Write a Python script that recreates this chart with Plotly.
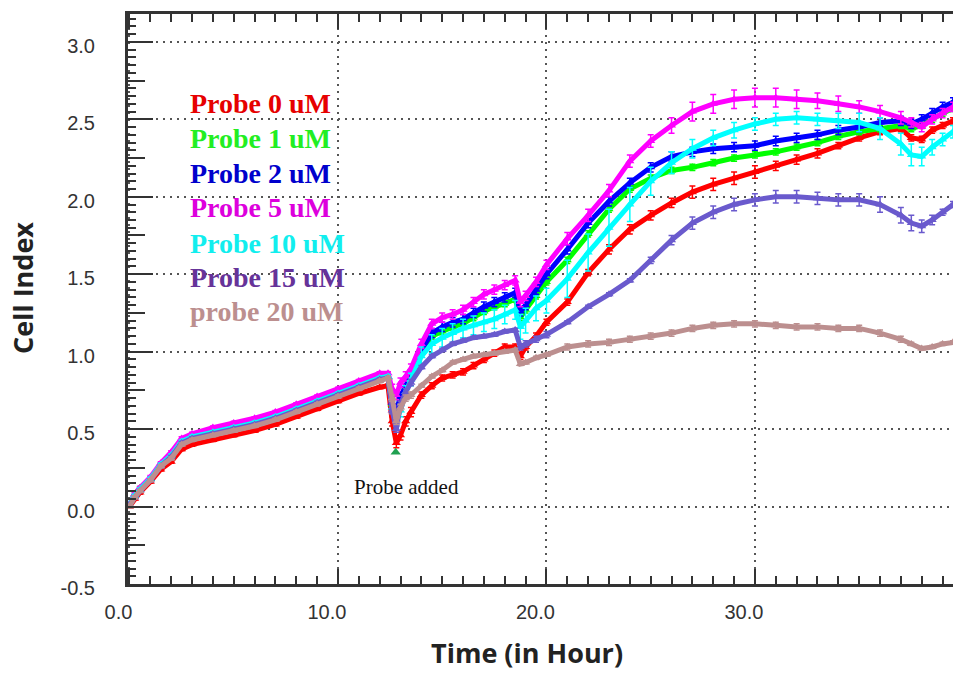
import plotly.graph_objects as go

# ---------------- data ----------------
time_h = [0, 0.25, 0.5, 1, 1.5, 2, 2.5, 3, 4, 5, 6, 7, 8, 9, 10, 11, 12, 12.4,
          12.6, 12.8, 13.0, 13.25, 13.5,
          14, 14.5, 15, 15.5, 16, 16.5, 17, 17.5, 18, 18.5,
          18.75, 19, 19.5, 20,
          21, 22, 23, 24, 25, 26, 27, 28, 29, 30, 31, 32, 33, 34, 35, 36, 37,
          37.5, 38, 38.5, 39, 39.5]

probe_0 = [0.00, 0.05, 0.09, 0.16, 0.24, 0.29, 0.37, 0.40, 0.43, 0.46, 0.49, 0.53, 0.58, 0.63, 0.68, 0.73, 0.77, 0.78,
           0.55, 0.41, 0.46, 0.55, 0.61,
           0.72, 0.78, 0.83, 0.85, 0.87, 0.91, 0.95, 0.99, 1.03, 1.03,
           0.97, 1.03, 1.10, 1.19,
           1.32, 1.51, 1.66, 1.79, 1.88, 1.96, 2.03, 2.08, 2.12, 2.16, 2.20, 2.24, 2.28, 2.33, 2.38, 2.42, 2.44,
           2.38, 2.37, 2.43, 2.46, 2.49]
probe_1 = [0.01, 0.08, 0.12, 0.18, 0.27, 0.33, 0.42, 0.45, 0.48, 0.51, 0.54, 0.58, 0.63, 0.68, 0.73, 0.78, 0.83, 0.84,
           0.66, 0.60, 0.70, 0.77, 0.84,
           1.00, 1.10, 1.13, 1.16, 1.18, 1.22, 1.26, 1.29, 1.31, 1.34,
           1.22, 1.27, 1.36, 1.45,
           1.59, 1.76, 1.92, 2.05, 2.12, 2.17, 2.19, 2.22, 2.25, 2.27, 2.29, 2.32, 2.35, 2.39, 2.42, 2.44, 2.46,
           2.44, 2.46, 2.50, 2.54, 2.57]
probe_2 = [0.01, 0.07, 0.11, 0.18, 0.27, 0.33, 0.42, 0.45, 0.48, 0.51, 0.54, 0.58, 0.63, 0.68, 0.73, 0.78, 0.83, 0.84,
           0.67, 0.62, 0.71, 0.78, 0.85,
           1.01, 1.12, 1.16, 1.19, 1.21, 1.25, 1.29, 1.32, 1.35, 1.38,
           1.26, 1.30, 1.40, 1.50,
           1.66, 1.83, 1.97, 2.09, 2.19, 2.26, 2.29, 2.31, 2.32, 2.33, 2.36, 2.38, 2.40, 2.43, 2.45, 2.48, 2.49,
           2.47, 2.50, 2.54, 2.58, 2.61]
probe_5 = [0.01, 0.08, 0.12, 0.19, 0.28, 0.35, 0.44, 0.47, 0.51, 0.54, 0.57, 0.61, 0.66, 0.71, 0.76, 0.81, 0.86, 0.86,
           0.76, 0.72, 0.80, 0.84, 0.89,
           1.05, 1.18, 1.22, 1.24, 1.27, 1.32, 1.37, 1.40, 1.43, 1.46,
           1.32, 1.36, 1.45, 1.56,
           1.73, 1.88, 2.04, 2.23, 2.36, 2.46, 2.55, 2.60, 2.63, 2.64, 2.64, 2.63, 2.62, 2.60, 2.58, 2.55, 2.51,
           2.48, 2.45, 2.50, 2.54, 2.58]
probe_10 = [0.01, 0.07, 0.11, 0.18, 0.27, 0.33, 0.42, 0.45, 0.48, 0.51, 0.54, 0.58, 0.63, 0.68, 0.73, 0.78, 0.83, 0.84,
            0.64, 0.56, 0.62, 0.74, 0.82,
            0.97, 1.05, 1.09, 1.12, 1.15, 1.17, 1.19, 1.21, 1.24, 1.27,
            1.16, 1.20, 1.28, 1.33,
            1.47, 1.64, 1.80, 1.95, 2.10, 2.22, 2.31, 2.38, 2.43, 2.47, 2.50, 2.51, 2.50, 2.49, 2.48, 2.44, 2.34,
            2.27, 2.26, 2.32, 2.37, 2.42]
probe_15 = [0.01, 0.06, 0.10, 0.17, 0.26, 0.32, 0.41, 0.44, 0.47, 0.50, 0.53, 0.57, 0.62, 0.67, 0.72, 0.77, 0.82, 0.83,
            0.62, 0.50, 0.66, 0.74, 0.80,
            0.90, 0.97, 1.01, 1.05, 1.07, 1.09, 1.10, 1.11, 1.13, 1.14,
            1.03, 1.05, 1.08, 1.11,
            1.19, 1.29, 1.37, 1.46, 1.59, 1.72, 1.83, 1.90, 1.95, 1.98, 2.00, 2.00, 1.99, 1.98, 1.98, 1.95, 1.88,
            1.83, 1.81, 1.85, 1.90, 1.95]
probe_20 = [0.00, 0.06, 0.10, 0.17, 0.26, 0.31, 0.40, 0.43, 0.46, 0.49, 0.52, 0.56, 0.61, 0.66, 0.71, 0.76, 0.81, 0.83,
            0.70, 0.55, 0.64, 0.70, 0.72,
            0.78, 0.84, 0.88, 0.93, 0.95, 0.97, 0.98, 0.99, 1.00, 1.01,
            0.92, 0.93, 0.96, 0.98,
            1.03, 1.05, 1.06, 1.08, 1.10, 1.12, 1.15, 1.17, 1.18, 1.18, 1.17, 1.16, 1.16, 1.15, 1.15, 1.12, 1.08,
            1.05, 1.02, 1.03, 1.05, 1.06]

# standard deviations (error bars)
err_0 = [0.01] * 18 + [0.03] * 5 + [0.02] * 10 + [0.02] * 4 + \
        [0.02, 0.02, 0.03, 0.03, 0.03, 0.03, 0.04, 0.04, 0.04, 0.04, 0.03, 0.03, 0.03, 0.02, 0.02, 0.02, 0.02] + [0.02] * 5
err_1 = [0.01] * 18 + [0.02] * 5 + [0.02] * 10 + [0.02] * 4 + [0.02] * 17 + [0.02] * 5
err_2 = [0.01] * 18 + [0.03] * 5 + [0.03] * 10 + [0.03] * 4 + [0.03] * 17 + [0.03] * 5
err_5 = [0.01] * 18 + [0.03] * 5 + [0.03] * 10 + [0.03] * 4 + \
        [0.04, 0.04, 0.04, 0.04, 0.04, 0.05, 0.06, 0.06, 0.06, 0.06, 0.06, 0.06, 0.05, 0.05, 0.04, 0.04, 0.04] + [0.03] * 5
err_10 = [0.01] * 18 + [0.04] * 5 + [0.06] * 10 + [0.08] * 4 + \
         [0.12, 0.12, 0.12, 0.11, 0.09, 0.07, 0.06, 0.05, 0.05, 0.04, 0.04, 0.04, 0.04, 0.05, 0.06, 0.07, 0.07] + \
         [0.07, 0.06, 0.05, 0.04, 0.04]
err_15 = [0.01] * 18 + [0.02] * 5 + [0.01] * 10 + [0.02] * 4 + \
         [0.01, 0.01, 0.01, 0.01, 0.02, 0.03, 0.04, 0.04, 0.04, 0.04, 0.04, 0.04, 0.04, 0.04, 0.04, 0.05, 0.05] + \
         [0.05, 0.04, 0.03, 0.02, 0.02]
err_20 = [0.01] * 18 + [0.02] * 5 + [0.01] * 10 + [0.01] * 4 + [0.02] * 17 + [0.01] * 5

series_names = ["Probe 0 uM", "Probe 1 uM", "Probe 2 uM", "Probe 5 uM",
                "Probe 10 uM", "Probe 15 uM", "probe 20 uM"]
series_vals = [probe_0, probe_1, probe_2, probe_5, probe_10, probe_15, probe_20]
series_err = [err_0, err_1, err_2, err_5, err_10, err_15, err_20]

probe_added_time = [12.77]
probe_added_ci = [0.35]

y_tick_vals = [-0.5, 0.0, 0.5, 1.0, 1.5, 2.0, 2.5, 3.0]
y_tick_text = ["-0.5", "0.0", "0.5", "1.0", "1.5", "2.0", "2.5", "3.0"]
x_tick_vals = [0, 10, 20, 30]
x_tick_text = ["0.0", "10.0", "20.0", "30.0"]

# ---------------- style ----------------
line_colors = ["#FF0000", "#00FF00", "#0000FF", "#FF00FF", "#00FFFF", "#6A5ACD", "#BC8F8F"]
text_colors = ["#E60000", "#22EE22", "#0000CC", "#DD00DD", "#11EEEE", "#663399", "#BC8F8F"]

W, H = 953, 673
L, R, T, B = 128, 0, 14, 89
PW, PH = W - L - R, H - T - B
XR = [-0.07, 39.5]
YR = [-0.5, 3.18]
AX = "#333333"


def px(xp):
    return (xp - L) / PW


def py(yp):
    return (H - B - yp) / PH


fig = go.Figure()

for name, vals, err, col in zip(series_names, series_vals, series_err, line_colors):
    fig.add_trace(go.Scatter(
        x=time_h, y=vals, name=name, mode="lines+markers",
        line=dict(color=col, width=5),
        marker=dict(symbol="triangle-up", size=8, color=col),
        error_y=dict(type="data", array=err, visible=True, color=col, thickness=1.5, width=3),
    ))

fig.add_trace(go.Scatter(
    x=probe_added_time, y=probe_added_ci, mode="markers",
    marker=dict(symbol="triangle-up", size=9, color="#1FA050"), showlegend=False,
))

# dummy traces so that the tick-only overlay axes are drawn
for xa, ya in [("x", "y2"), ("x", "y3"), ("x2", "y"), ("x3", "y"), ("x4", "y")]:
    fig.add_trace(go.Scatter(x=[None], y=[None], xaxis=xa, yaxis=ya, showlegend=False, hoverinfo="skip"))

grid_style = dict(showgrid=True, gridcolor="#555555", gridwidth=2, griddash="2px,5px")
tickfont = dict(family="Liberation Sans, Arial, sans-serif", size=20, color="#333333")
tick_only = dict(showticklabels=False, showgrid=False, showline=False, zeroline=False,
                 tickwidth=2, tickcolor=AX, ticks="inside")

fig.update_layout(
    width=W, height=H,
    margin=dict(l=L, r=R, t=T, b=B, pad=0),
    plot_bgcolor="white", paper_bgcolor="white",
    showlegend=False,
    xaxis=dict(
        range=XR, tickmode="array", tickvals=x_tick_vals, ticktext=x_tick_text,
        ticks="inside", ticklen=15, tickwidth=2, tickcolor=AX,
        showline=True, linewidth=3, linecolor=AX, mirror=True,
        zeroline=False, tickfont=tickfont, ticklabelshift=-11, ticklabelstandoff=8,
        **grid_style,
    ),
    yaxis=dict(
        range=YR, tickmode="array", tickvals=y_tick_vals, ticktext=y_tick_text,
        ticks="inside", ticklen=25, tickwidth=2, tickcolor=AX,
        showline=True, linewidth=3, linecolor=AX, mirror=False,
        zeroline=False, tickfont=tickfont, ticklabelstandoff=26, ticklabelshift=4,
        **grid_style,
    ),
    # medium ticks at the quarter values
    yaxis2=dict(overlaying="y", side="left", range=YR, tickmode="linear", tick0=0.25, dtick=0.5,
                ticklen=17, **tick_only),
    # small ticks every 0.05
    yaxis3=dict(overlaying="y", side="left", range=YR, tickmode="linear", tick0=0, dtick=0.05,
                ticklen=8, **tick_only),
    # top major ticks
    xaxis2=dict(overlaying="x", side="top", range=XR, tickmode="linear", tick0=0, dtick=10,
                ticklen=15, **tick_only),
    # top minor ticks
    xaxis3=dict(overlaying="x", side="top", range=XR, tickmode="linear", tick0=0, dtick=1,
                ticklen=8, **tick_only),
    # bottom minor ticks
    xaxis4=dict(overlaying="x", side="bottom", range=XR, tickmode="linear", tick0=0, dtick=1,
                ticklen=8, **tick_only),
)

annotations = []
legend_y = [103, 138, 173, 208, 243, 277, 311]
for name, col, yy in zip(series_names, text_colors, legend_y):
    annotations.append(dict(
        x=px(188), y=py(yy), xref="paper", yref="paper", text=name, showarrow=False,
        xanchor="left", yanchor="middle",
        font=dict(family="Liberation Serif, Times New Roman, serif", size=28, color=col, weight="bold"),
    ))

annotations.append(dict(
    x=13.3, y=0.125, xref="x", yref="y", text="Probe added", showarrow=False,
    xanchor="center", yanchor="middle",
    font=dict(family="Liberation Serif, Times New Roman, serif", size=21, color="#111111"),
))
annotations.append(dict(
    x=px(527), y=py(652), xref="paper", yref="paper", text="Time (in Hour)", showarrow=False,
    xanchor="center", yanchor="middle",
    font=dict(family="Open Sans, sans-serif", size=27, color="#222222", weight="bold"),
))
annotations.append(dict(
    x=px(22), y=py(288), xref="paper", yref="paper", text="Cell Index", showarrow=False,
    xanchor="center", yanchor="middle", textangle=-90,
    font=dict(family="Open Sans, sans-serif", size=27, color="#222222", weight="bold"),
))
fig.update_layout(annotations=annotations)

fig.write_html("out.html")
